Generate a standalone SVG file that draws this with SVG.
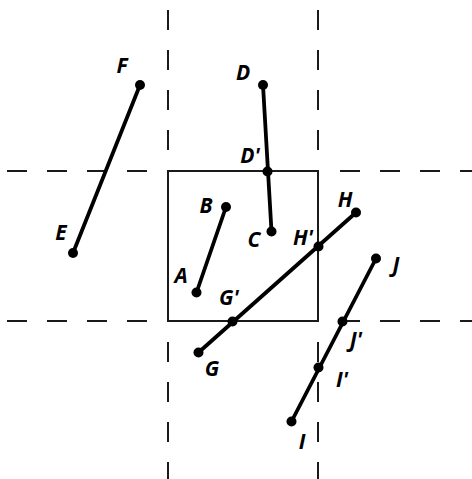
<svg xmlns="http://www.w3.org/2000/svg" width="472" height="479" viewBox="0 0 472 479">
<style>
.dash{stroke:#1a1a1a;stroke-width:2;stroke-dasharray:20 20;fill:none}
.box{stroke:#1a1a1a;stroke-width:2;fill:none}
.seg{stroke:#000;stroke-width:3.8;stroke-linecap:round;fill:none}
.pt{fill:#000}
.lbl{font-family:"Open Sans","Noto Sans",sans-serif;font-weight:bold;font-style:italic;font-size:21px;fill:#000;text-anchor:middle}
</style>
<rect width="472" height="479" fill="#fff"/>
<g id="grid">
<line class="dash" x1="7" y1="171" x2="160" y2="171"/>
<line class="dash" x1="340" y1="171" x2="472" y2="171"/>
<line class="dash" x1="7" y1="321" x2="160" y2="321"/>
<line class="dash" x1="340" y1="321" x2="472" y2="321"/>
<line class="dash" x1="168" y1="10" x2="168" y2="160"/>
<line class="dash" x1="318" y1="10" x2="318" y2="160"/>
<line class="dash" x1="168" y1="342" x2="168" y2="479"/>
<line class="dash" x1="318" y1="342" x2="318" y2="479"/>
<rect id="window" class="box" x="168" y="171" width="150" height="150"/>
</g>
<g id="connectors">
<line class="seg" x1="73" y1="253" x2="140" y2="85"/>
<line class="seg" x1="263" y1="85" x2="271.5" y2="231.5"/>
<line class="seg" x1="226" y1="207" x2="196.5" y2="292.5"/>
<line class="seg" x1="198.5" y1="352.5" x2="356" y2="212.5"/>
<line class="seg" x1="291.5" y1="421.5" x2="376" y2="258.5"/>
</g>
<g id="node-E"><circle class="pt" cx="73" cy="253" r="5"/><text class="lbl" x="61" y="240">E</text></g>
<g id="node-F"><circle class="pt" cx="140" cy="85" r="5"/><text class="lbl" x="122" y="73">F</text></g>
<g id="node-D"><circle class="pt" cx="263" cy="85" r="5"/><text class="lbl" x="243" y="80">D</text></g>
<g id="node-D2"><circle class="pt" cx="267.5" cy="171.5" r="5"/><text class="lbl" x="250" y="163">D'</text></g>
<g id="node-C"><circle class="pt" cx="271.5" cy="231.5" r="5"/><text class="lbl" x="254" y="247">C</text></g>
<g id="node-B"><circle class="pt" cx="226" cy="207" r="5"/><text class="lbl" x="206" y="213">B</text></g>
<g id="node-A"><circle class="pt" cx="196.5" cy="292.5" r="5"/><text class="lbl" x="181" y="283">A</text></g>
<g id="node-G"><circle class="pt" cx="198.5" cy="352.5" r="5"/><text class="lbl" x="212" y="376">G</text></g>
<g id="node-G2"><circle class="pt" cx="232.5" cy="321.5" r="5"/><text class="lbl" x="229" y="305">G'</text></g>
<g id="node-H"><circle class="pt" cx="356" cy="212.5" r="5"/><text class="lbl" x="345" y="207">H</text></g>
<g id="node-H2"><circle class="pt" cx="318.5" cy="246.5" r="5"/><text class="lbl" x="303" y="245">H'</text></g>
<g id="node-J"><circle class="pt" cx="376" cy="258.5" r="5"/><text class="lbl" x="396" y="272">J</text></g>
<g id="node-J2"><circle class="pt" cx="342.5" cy="321.5" r="5"/><text class="lbl" x="356" y="347">J'</text></g>
<g id="node-I2"><circle class="pt" cx="318.5" cy="367.5" r="5"/><text class="lbl" x="342" y="387">I'</text></g>
<g id="node-I"><circle class="pt" cx="291.5" cy="421.5" r="5"/><text class="lbl" x="302" y="449">I</text></g>
</svg>
